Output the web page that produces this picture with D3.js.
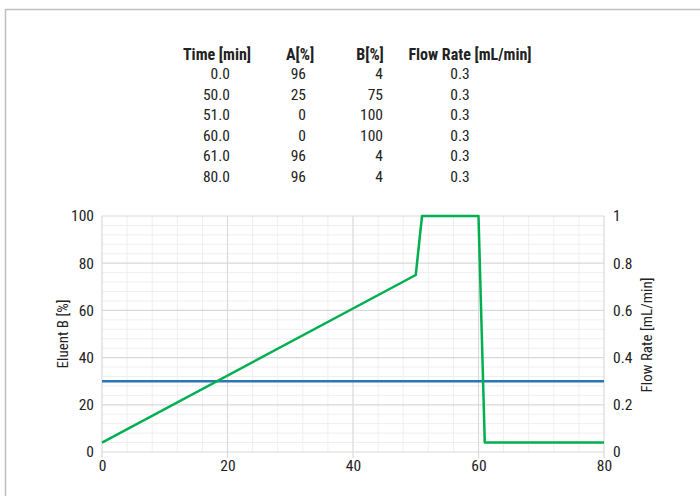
<!DOCTYPE html>
<html>
<head>
<meta charset="utf-8">
<script src="https://cdn.jsdelivr.net/npm/d3@7"></script>
<style>
  body { margin: 0; background: #fff; }
  svg text { font-family: "Roboto Condensed", "Liberation Sans Narrow", "Arial Narrow", sans-serif; fill: #222; }
</style>
</head>
<body>
<div id="chart"></div>
<script>
'use strict';

// table data (gradient program)
let tableHeaders = ['Time [min]', 'A[%]', 'B[%]', 'Flow Rate [mL/min]'];
let timeCol = ['0.0', '50.0', '51.0', '60.0', '61.0', '80.0'];
let aCol = ['96', '25', '0', '0', '96', '96'];
let bCol = ['4', '75', '100', '100', '4', '4'];
let flowCol = ['0.3', '0.3', '0.3', '0.3', '0.3', '0.3'];

// series data
let times = [0, 50, 51, 60, 61, 80];
let eluentB = [4, 75, 100, 100, 4, 4];
let flowTimes = [0, 80];
let flowRate = [0.3, 0.3];

let xTicks = [0, 20, 40, 60, 80];
let yTicks = [0, 20, 40, 60, 80, 100];
let y2Ticks = [0, 0.2, 0.4, 0.6, 0.8, 1];

let width = 700;
let height = 496;

let svg = d3.select('#chart').append('svg')
  .attr('width', width)
  .attr('height', height);

// outer frame (only top and left visible)
svg.append('rect')
  .attr('x', 5.5).attr('y', 9.5)
  .attr('width', 720).attr('height', 520)
  .attr('fill', 'none')
  .attr('stroke', '#bfbfbf')
  .attr('stroke-width', 1.5);

//TABLE===========================================
let colRight = [230, 306, 383, null];
let headerCenter = [217, 300, 370, 470];
let headerY = 60;
let rowY0 = 79;
let rowStep = 20.6;

tableHeaders.forEach((h, i) => {
  svg.append('text')
    .attr('x', headerCenter[i])
    .attr('y', headerY)
    .attr('text-anchor', 'middle')
    .attr('font-size', 16)
    .attr('font-weight', 'bold')
    .text(h);
});

let cols = [timeCol, aCol, bCol];
cols.forEach((col, ci) => {
  col.forEach((v, ri) => {
    svg.append('text')
      .attr('x', colRight[ci])
      .attr('y', rowY0 + ri * rowStep)
      .attr('text-anchor', 'end')
      .attr('font-size', 15.5)
      .text(v);
  });
});
flowCol.forEach((v, ri) => {
  svg.append('text')
    .attr('x', 460)
    .attr('y', rowY0 + ri * rowStep)
    .attr('text-anchor', 'middle')
    .attr('font-size', 15.5)
    .text(v);
});

//CHART===========================================
let plotLeft = 102, plotRight = 604, plotTop = 216, plotBottom = 452;

let xScale = d3.scaleLinear().domain([0, 80]).range([plotLeft, plotRight]);
let yScale = d3.scaleLinear().domain([0, 100]).range([plotBottom, plotTop]);
let y2Scale = d3.scaleLinear().domain([0, 1]).range([plotBottom, plotTop]);

// minor grid
let minorX = d3.range(0, 81, 4).filter(v => v % 20 !== 0);
let minorY = d3.range(0, 101, 4).filter(v => v % 20 !== 0);

svg.append('g').selectAll('line').data(minorX).enter().append('line')
  .attr('x1', d => xScale(d)).attr('x2', d => xScale(d))
  .attr('y1', plotTop).attr('y2', plotBottom)
  .attr('stroke', '#efefef').attr('stroke-width', 1);
svg.append('g').selectAll('line').data(minorY).enter().append('line')
  .attr('x1', plotLeft).attr('x2', plotRight)
  .attr('y1', d => yScale(d)).attr('y2', d => yScale(d))
  .attr('stroke', '#efefef').attr('stroke-width', 1);

// major grid
svg.append('g').selectAll('line').data(xTicks).enter().append('line')
  .attr('x1', d => xScale(d)).attr('x2', d => xScale(d))
  .attr('y1', plotTop).attr('y2', plotBottom + 6)
  .attr('stroke', '#d9d9d9').attr('stroke-width', 1.2);
svg.append('g').selectAll('line').data(yTicks).enter().append('line')
  .attr('x1', plotLeft).attr('x2', plotRight)
  .attr('y1', d => yScale(d)).attr('y2', d => yScale(d))
  .attr('stroke', '#d9d9d9').attr('stroke-width', 1.2);

// axes labels via d3 axes
let xAxis = d3.axisBottom(xScale).tickValues(xTicks).tickSize(0).tickPadding(8);
let yAxis = d3.axisLeft(yScale).tickValues(yTicks).tickSize(0).tickPadding(8);
let y2Axis = d3.axisRight(y2Scale).tickValues(y2Ticks).tickSize(0).tickPadding(9)
  .tickFormat(d3.format('~g'));

function styleAxis(g) {
  g.select('.domain').remove();
  g.selectAll('text')
    .attr('font-size', 15.5)
    .attr('fill', '#222')
    .style('font-family', '"Roboto Condensed", "Liberation Sans Narrow", "Arial Narrow", sans-serif');
}

svg.append('g').attr('transform', `translate(0, ${plotBottom})`).call(xAxis).call(styleAxis);
svg.append('g').attr('transform', `translate(${plotLeft}, 0)`).call(yAxis).call(styleAxis);
svg.append('g').attr('transform', `translate(${plotRight}, 0)`).call(y2Axis).call(styleAxis);

// axis titles
svg.append('text')
  .attr('transform', `translate(68, ${(plotTop + plotBottom) / 2}) rotate(-90)`)
  .attr('text-anchor', 'middle')
  .attr('font-size', 15)
  .text('Eluent B [%]');
svg.append('text')
  .attr('transform', `translate(652, 335) rotate(-90)`)
  .attr('text-anchor', 'middle')
  .attr('font-size', 15)
  .text('Flow Rate [mL/min]');

// flow rate line
let flowLine = d3.line().x((d, i) => xScale(flowTimes[i])).y(d => y2Scale(d));
svg.append('path')
  .datum(flowRate)
  .attr('d', flowLine)
  .attr('fill', 'none')
  .attr('stroke', '#2e75b6')
  .attr('stroke-width', 2.5);

// eluent B line
let bLine = d3.line().x((d, i) => xScale(times[i])).y(d => yScale(d));
svg.append('path')
  .datum(eluentB)
  .attr('d', bLine)
  .attr('fill', 'none')
  .attr('stroke', '#00b050')
  .attr('stroke-width', 2.5)
  .attr('stroke-linejoin', 'round');
</script>
</body>
</html>
